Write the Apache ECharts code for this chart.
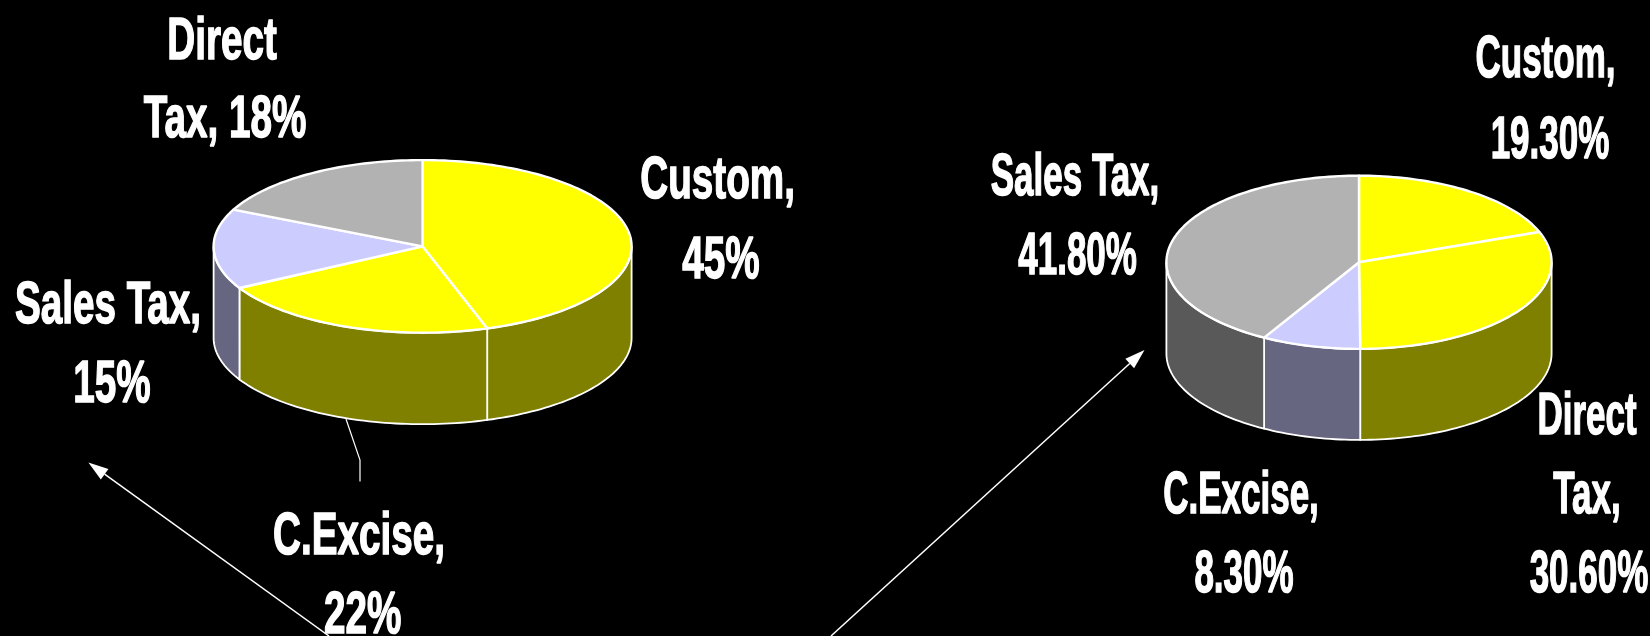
<!DOCTYPE html>
<html>
<head>
<meta charset="utf-8">
<style>html,body{margin:0;padding:0;background:#000}#c{width:1650px;height:636px}</style>
<script src="https://cdn.jsdelivr.net/npm/echarts@6/dist/echarts.min.js"></script>
</head>
<body>
<div id="c"></div>
<script>
// Data
const leftNames = ['Custom', 'C.Excise', 'Sales Tax', 'Direct Tax'];
const leftValues = [45, 22, 15, 18];
const rightNames = ['Custom', 'Direct Tax', 'C.Excise', 'Sales Tax'];
const rightValues = [19.3, 30.6, 8.3, 41.8];
const leftLabelLines = ['Direct', 'Tax, 18%', 'Custom,', '45%', 'Sales Tax,', '15%', 'C.Excise,', '22%'];
const rightLabelLines = ['Custom,', '19.30%', 'Sales Tax,', '41.80%', 'Direct', 'Tax,', '30.60%', 'C.Excise,', '8.30%'];

// Styles and layout
const topColors = ['#FFFF00', '#FFFF00', '#CCCCFF', '#B2B2B2'];
const sideColors = ['#808000', '#808000', '#666680', '#595959'];
const leftPie = { cx: 422.6, cy: 246.4, rx: 209, ry: 86.3, depth: 91.5 };
const rightPie = { cx: 1359, cy: 262.3, rx: 192.6, ry: 86.6, depth: 91 };
const leftLabelPos = [[222, 59], [225, 137], [717.6, 198], [721, 278], [108, 323], [112, 401.6], [359, 553.8], [362.6, 633]];
const rightLabelPos = [[1545.5, 77], [1550, 157.4], [1075, 194.7], [1077.6, 273.8], [1587, 434], [1587, 513], [1589, 591.5], [1241, 513], [1244, 591.5]];
const FONT_SIZE = 56, SCALE_Y = 1.06, CAP = 40, BASE_SHIFT = 4;
const LEFT_SCALE_X = 0.69, RIGHT_SCALE_X = 0.625;

function sliceAngles(values) {
  const total = values.reduce((a, b) => a + b, 0);
  let acc = 0;
  return values.map(v => { const s = acc; acc += v; return [s / total * 360, acc / total * 360]; });
}
function pt(p, deg, dy) {
  const r = deg * Math.PI / 180;
  return [p.cx + p.rx * Math.sin(r), p.cy - p.ry * Math.cos(r) + (dy || 0)];
}
function arc(p, a, b, dy) {
  const pts = [], n = Math.max(2, Math.ceil(Math.abs(b - a) / 1.5));
  for (let i = 0; i <= n; i++) pts.push(pt(p, a + (b - a) * i / n, dy));
  return pts;
}
function sideSeries(values, p) {
  const ang = sliceAngles(values);
  return {
    type: 'custom', coordinateSystem: 'none', silent: true, z: 2, clip: false, data: values,
    renderItem(params) {
      const i = params.dataIndex;
      const a = Math.max(ang[i][0], 90), b = Math.min(ang[i][1], 270);
      if (b <= a) return { type: 'group', children: [] };
      const pts = arc(p, a, b, 0).concat(arc(p, b, a, p.depth));
      return { type: 'polygon', shape: { points: pts },
        style: { fill: sideColors[i], stroke: '#fff', lineWidth: 1.8, lineJoin: 'round' } };
    }
  };
}
function topSeries(values, p) {
  const ang = sliceAngles(values);
  return {
    type: 'custom', coordinateSystem: 'none', silent: true, z: 3, clip: false, data: values,
    renderItem(params) {
      const i = params.dataIndex;
      const pts = [[p.cx, p.cy]].concat(arc(p, ang[i][0], ang[i][1], 0));
      return { type: 'polygon', shape: { points: pts },
        style: { fill: topColors[i], stroke: '#fff', lineWidth: 2.4, lineJoin: 'round' } };
    }
  };
}
function labelSeries(lines, pos, scaleX) {
  return {
    type: 'custom', coordinateSystem: 'none', silent: true, z: 6, clip: false,
    data: lines.map((_, i) => i),
    renderItem(params) {
      const i = params.dataIndex;
      return { type: 'text', x: pos[i][0], y: pos[i][1] + BASE_SHIFT - CAP / 2, scaleX: scaleX, scaleY: SCALE_Y,
        style: { text: lines[i], fill: '#fff', stroke: '#fff', lineWidth: 1.4,
          fontFamily: '"Liberation Sans", Arial, sans-serif',
          fontWeight: 'bold', fontSize: FONT_SIZE, align: 'center', verticalAlign: 'middle' } };
    }
  };
}
function arrow(x1, y1, x2, y2) {
  const ang = Math.atan2(y2 - y1, x2 - x1), L = 20, W = 6.5;
  const bx = x2 - L * Math.cos(ang), by = y2 - L * Math.sin(ang);
  const nx = -Math.sin(ang) * W, ny = Math.cos(ang) * W;
  return [
    { type: 'line', z: 4, shape: { x1, y1, x2: bx, y2: by }, style: { stroke: '#fff', lineWidth: 1.5 } },
    { type: 'polygon', z: 4, shape: { points: [[x2, y2], [bx + nx, by + ny], [bx - nx, by - ny]] }, style: { fill: '#fff' } }
  ];
}

const chart = echarts.init(document.getElementById('c'), null, { renderer: 'canvas' });
chart.setOption({
  animation: false,
  backgroundColor: '#000',
  graphic: { elements: [
    ...arrow(329, 636, 88.4, 462.5),
    ...arrow(831, 636, 1144.5, 350),
    { type: 'polyline', z: 1, shape: { points: [[346, 419], [360, 460], [360, 481.5]] },
      style: { fill: null, stroke: '#fff', lineWidth: 1.2 } }
  ] },
  series: [
    sideSeries(leftValues, leftPie), topSeries(leftValues, leftPie),
    sideSeries(rightValues, rightPie), topSeries(rightValues, rightPie),
    labelSeries(leftLabelLines, leftLabelPos, LEFT_SCALE_X), labelSeries(rightLabelLines, rightLabelPos, RIGHT_SCALE_X)
  ]
});
</script>
</body>
</html>
